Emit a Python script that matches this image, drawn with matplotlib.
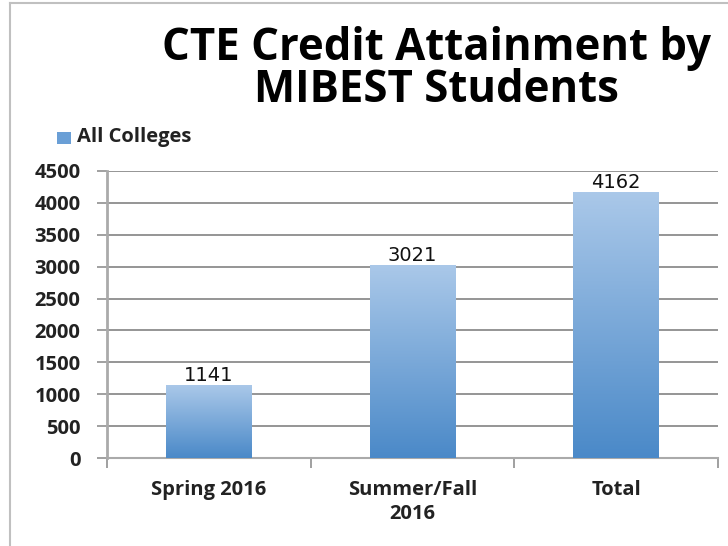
import numpy as np
import matplotlib
matplotlib.use('Agg')
import matplotlib.pyplot as plt
from matplotlib.colors import LinearSegmentedColormap
from matplotlib.lines import Line2D
from matplotlib.patches import Rectangle

categories = ['Spring 2016', 'Summer/Fall\n2016', 'Total']
values = [1141, 3021, 4162]
series_name = 'All Colleges'
yticks = [0, 500, 1000, 1500, 2000, 2500, 3000, 3500, 4000, 4500]

title = 'CTE Credit Attainment by\nMIBEST Students'
font = 'Open Sans'
bar_top = '#aac8e9'
bar_bottom = '#4a89c8'
grid_color = '#8c8c8c'
text_color = '#222222'

fig = plt.figure(figsize=(7.28, 5.46), dpi=100)
fig.patch.set_facecolor('white')
ax = fig.add_axes([0.147, 0.161, 0.839, 0.526])

x = np.arange(len(categories))
width = 0.42
bars = ax.bar(x, values, width=width, color='none', zorder=3)

# vertical gradient inside each bar
grad = np.linspace(0, 1, 256).reshape(-1, 1)
cmap = LinearSegmentedColormap.from_list('bar', [bar_bottom, bar_top])
for b, v in zip(bars, values):
    x0, y0 = b.get_x(), b.get_y()
    w, h = b.get_width(), b.get_height()
    im = ax.imshow(grad, cmap=cmap, aspect='auto', origin='lower',
                   extent=[x0, x0 + w, y0, y0 + h], zorder=3)
    im.set_clip_path(Rectangle((x0, y0), w, h, transform=ax.transData))
    ax.text(x0 + w / 2, y0 + h + 10, f'{v}', ha='center', va='bottom',
            fontsize=14, color='#111111', family='DejaVu Sans', zorder=4)

ax.set_xlim(-0.5, len(categories) - 0.5)
ax.set_ylim(0, 4500)
ax.set_yticks(yticks)
ax.set_yticklabels([str(t) for t in yticks], fontsize=14.5, fontweight='bold',
                   family=font, color=text_color)
ax.yaxis.grid(True, color=grid_color, linewidth=1.3, zorder=0)
ax.set_axisbelow(True)

# category ticks sit between the bars
ax.set_xticks(np.arange(len(categories) + 1) - 0.5)
ax.set_xticklabels([])
ax.set_xticks(x, minor=True)
ax.set_xticklabels(categories, minor=True, fontsize=14.5, fontweight='bold',
                   family=font, color=text_color, linespacing=1.25)
ax.tick_params(axis='x', which='minor', length=0, pad=16)
ax.tick_params(axis='x', which='major', length=7, color='#999999', width=1.3)
ax.tick_params(axis='y', length=7, color='#999999', width=1.3, pad=12)

for s in ['top', 'right']:
    ax.spines[s].set_visible(False)
ax.spines['left'].set_color('#aaaaaa')
ax.spines['left'].set_linewidth(2)
ax.spines['bottom'].set_color('#aaaaaa')
ax.spines['bottom'].set_linewidth(1.5)

fig.text(0.599, 0.873, title, ha='center', va='center', fontsize=31.5,
         fontweight='bold', family=font, linespacing=0.93)

# legend
fig.patches.append(Rectangle((57 / 728, 1 - 144 / 546), 14 / 728, 12 / 546,
                             transform=fig.transFigure, facecolor='#6a9fd6',
                             edgecolor='none'))
fig.text(77 / 728, 1 - 137 / 546, series_name, ha='left', va='center',
         fontsize=14.5, fontweight='bold', family=font, color=text_color)

# chart area frame (cropped)
fig.add_artist(Line2D([10 / 728, 10 / 728], [0, 1 - 3 / 546],
                      transform=fig.transFigure, color='#c0c0c0', lw=1.5))
fig.add_artist(Line2D([10 / 728, 1], [1 - 3 / 546, 1 - 3 / 546],
                      transform=fig.transFigure, color='#c0c0c0', lw=1.5))

fig.savefig('out.png', dpi=100)
